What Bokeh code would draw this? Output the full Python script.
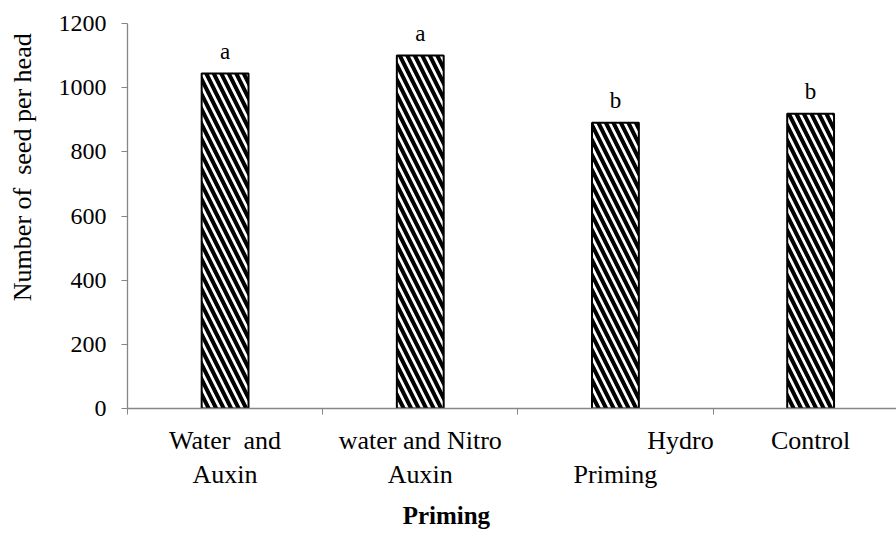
from bokeh.plotting import figure
from bokeh.models import Range1d, FixedTicker, ColumnDataSource
from bokeh.core.properties import value
from bokeh.embed import file_html
from bokeh.resources import INLINE

categories = ["Water\u00a0\u00a0and\nAuxin", "water and Nitro\nAuxin",
              "\u00a0" * 20 + "Hydro\nPriming", "Control"]
seeds = [1044, 1100, 891, 919]
letters = ["a", "a", "b", "b"]
y_ticks = [0, 200, 400, 600, 800, 1000, 1200]
x_title = "Priming"
y_title = "Number of\u00a0\u00a0seed per head"

FONT = "'Liberation Serif', serif"
AXIS_GREY = "#868686"
NBSP = "\u00a0"

xpos = [i + 0.5 for i in range(len(categories))]
bounds = [float(i) for i in range(len(categories))]

src = ColumnDataSource(dict(x=xpos, top=seeds, lab=letters))

p = figure(width=896, height=534, output_backend="svg", toolbar_location=None,
           x_range=Range1d(0, 3.94), y_range=Range1d(0, 1200),
           min_border_left=127, min_border_right=0, min_border_top=23,
           min_border_bottom=126)
p.outline_line_color = None
p.grid.visible = False
p.background_fill_color = "white"

p.vbar(x="x", top="top", width=0.24, source=src, fill_color="white",
       line_color="black", line_width=2,
       hatch_pattern="left_diagonal_line", hatch_color="black",
       hatch_weight=4, hatch_scale=15)

p.text(x="x", y="top", text="lab", source=src, text_align="center",
       text_baseline="alphabetic", y_offset=-22,
       text_font=value(FONT), text_font_size="23px", text_color="black")

# y axis
ya = p.yaxis[0]
ya.ticker = FixedTicker(ticks=y_ticks)
ya.axis_line_color = AXIS_GREY
ya.axis_line_width = 1.3
ya.major_tick_line_color = AXIS_GREY
ya.major_tick_out = 6
ya.major_tick_in = 0
ya.minor_tick_line_color = None
ya.major_label_text_font = FONT
ya.major_label_text_font_size = "24px"
ya.major_label_text_color = "black"
ya.major_label_standoff = 15
ya.axis_label = NBSP * 15 + y_title
ya.axis_label_text_font = FONT
ya.axis_label_text_font_size = "26px"
ya.axis_label_text_font_style = "normal"
ya.axis_label_text_color = "black"
ya.axis_label_standoff = 19

# x axis
xa = p.xaxis[0]
xa.ticker = FixedTicker(ticks=xpos, minor_ticks=bounds)
xa.major_label_overrides = {x: c for x, c in zip(xpos, categories)}
xa.axis_line_color = AXIS_GREY
xa.axis_line_width = 1.3
xa.major_tick_line_color = None
xa.major_tick_out = 0
xa.major_tick_in = 0
xa.minor_tick_line_color = AXIS_GREY
xa.minor_tick_out = 6
xa.minor_tick_in = 0
xa.major_label_text_font = FONT
xa.major_label_text_font_size = "26px"
xa.major_label_text_color = "black"
xa.major_label_standoff = 11
xa.axis_label = x_title + NBSP * 21
xa.axis_label_text_font = FONT
xa.axis_label_text_font_size = "25px"
xa.axis_label_text_font_style = "bold"
xa.axis_label_text_color = "black"
xa.axis_label_standoff = 10

open("out.html", "w").write(file_html(p, INLINE))
